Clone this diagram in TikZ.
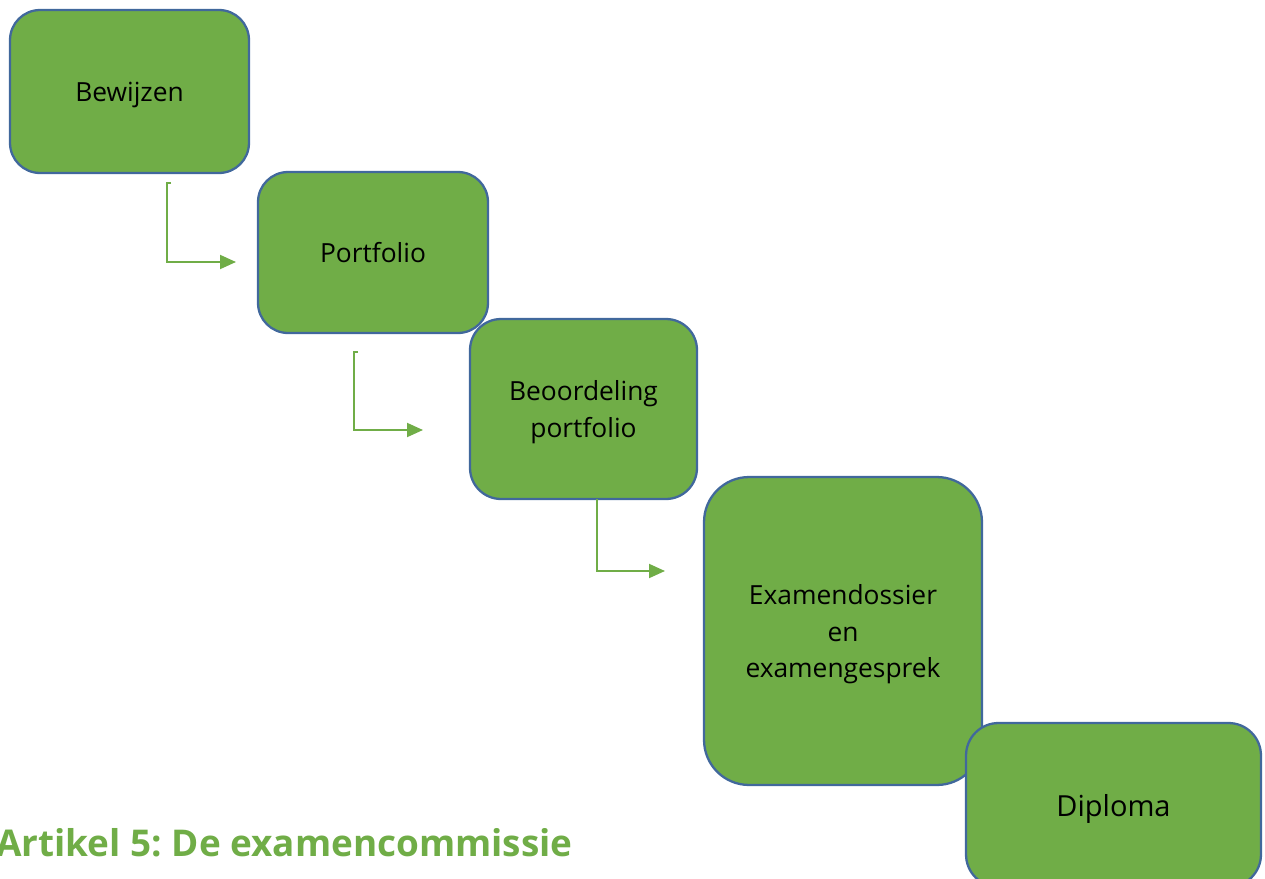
\documentclass[tikz,border=0pt]{standalone}
\usepackage{fontspec}
\setmainfont{Open Sans}
\usetikzlibrary{arrows.meta}
\definecolor{boxgreen}{HTML}{70AD47}
\definecolor{boxblue}{HTML}{41689C}
\frenchspacing
\tikzset{
  stap/.style={draw=boxblue, line width=1.3pt, fill=boxgreen, align=center,
    font=\fontsize{15}{21}\selectfont, inner sep=0pt, text depth=-3pt},
  pijl/.style={draw=boxgreen, line width=1.1pt, -{Triangle[length=0.32cm,width=0.28cm]}}
}
\begin{document}
\begin{tikzpicture}[x=0.02cm,y=-0.02cm]
\useasboundingbox (0,0) rectangle (1265,879);
\clip (0,0) rectangle (1265,879);
% steps
\node[stap, minimum width=4.78cm, minimum height=3.26cm, rounded corners=0.6cm] (bewijzen) at (129.5,91.5) {Bewijzen};
\node[stap, minimum width=4.6cm, minimum height=3.22cm, rounded corners=0.6cm] (portfolio) at (373,252.5) {Portfolio};
\node[stap, minimum width=4.54cm, minimum height=3.6cm, rounded corners=0.62cm] (beoordeling) at (583.5,409) {Beoordeling\\portfolio};
\node[stap, minimum width=5.56cm, minimum height=6.16cm, rounded corners=0.9cm] (examen) at (843,631) {Examendossier\\en\\examengesprek};
\node[stap, minimum width=5.9cm, minimum height=3.28cm, rounded corners=0.65cm, font=\fontsize{16.5}{20}\selectfont] (diploma) at (1113.5,805) {Diploma};
% arrows
\coordinate (p1) at (167,183);
\coordinate (q1) at (236,262);
\coordinate (p2) at (354,352);
\coordinate (q2) at (423,430);
\coordinate (p3) at (597,499);
\coordinate (q3) at (665,571);
\draw[pijl] ([xshift=0.08cm]p1) -- (p1) |- (q1);
\draw[pijl] ([xshift=0.08cm]p2) -- (p2) |- (q2);
\draw[pijl] (p3) |- (q3);
% heading
\node[anchor=base west, inner sep=0pt, text=boxgreen, font=\fontsize{21}{25}\selectfont\bfseries] (kop) at (-4,856) {Artikel 5: De examencommissie};
\end{tikzpicture}
\end{document}
